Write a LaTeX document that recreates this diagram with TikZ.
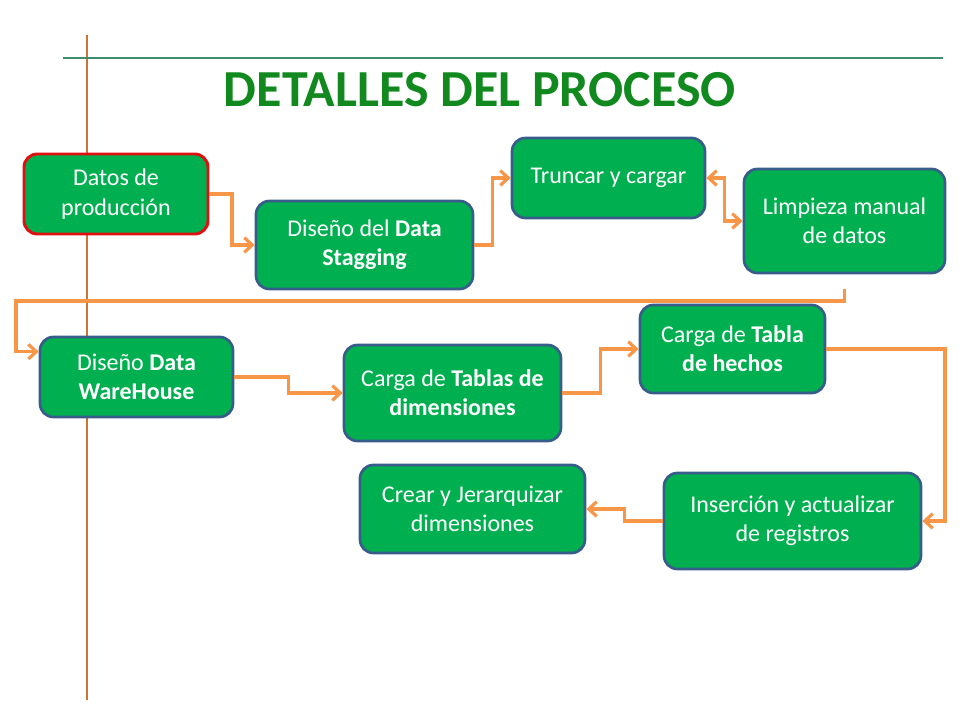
\documentclass[tikz,border=0pt]{standalone}
\usepackage{fontspec}
\setmainfont{Carlito}
\usetikzlibrary{arrows.meta,calc}
\definecolor{procGreen}{HTML}{00B050}
\definecolor{procBlue}{HTML}{385D8A}
\definecolor{procRed}{HTML}{E01010}
\definecolor{flowOrange}{HTML}{F79646}
\definecolor{titleGreen}{HTML}{12891E}
\definecolor{ruleTeal}{HTML}{3E8C6E}
\definecolor{ruleOrange}{HTML}{CC7430}
\tikzset{
  proc/.style={draw=procBlue, line width=2pt, fill=procGreen, rounded corners=10pt,
    text=white, align=center, inner sep=2pt, font=\fontsize{18}{22}\selectfont},
  flow/.style={draw=flowOrange, line width=2.4pt, -{Straight Barb[length=6pt,width=11pt]}},
}
\begin{document}
\begin{tikzpicture}[x=0.75pt,y=-0.75pt]
\useasboundingbox (0,0) rectangle (960,720);
%slide rules
\coordinate (ruleTop)    at (  87, 35);
\coordinate (ruleBottom) at (  87,700);
\coordinate (ruleLeft)   at (  63, 58);
\coordinate (ruleRight)  at ( 943, 58);
\draw[ruleOrange, line width=0.8pt] (ruleTop) -- (ruleBottom);
\draw[ruleTeal, line width=0.8pt] (ruleLeft) -- (ruleRight);

%title
\node[text=titleGreen, font=\fontsize{39}{46}\selectfont\bfseries] (titulo) at (480,90) {DETALLES DEL PROCESO};

%process steps
\node[proc, draw=procRed, line width=2.2pt, minimum width=138pt, minimum height=60pt] (datos) at (116,  194) {Datos de\\producción};
\node[proc, minimum width=162.75pt, minimum height=66pt]   (stagging)    at (364.5,245) {Diseño del \textbf{Data}\\\textbf{Stagging}};
\node[proc, minimum width=144.75pt, minimum height=60pt]   (truncar)     at (608.5,178) {Truncar y cargar};
\node[proc, minimum width=150.75pt, minimum height=78pt]   (limpieza)    at (844.5,221) {Limpieza manual\\de datos};
\node[proc, minimum width=144.75pt, minimum height=60pt]   (warehouse)   at (136.5,377) {Diseño \textbf{Data}\\\textbf{WareHouse}};
\node[proc, minimum width=162.75pt, minimum height=72pt]   (dimensiones) at (452.5,393) {Carga de \textbf{Tablas de}\\\textbf{dimensiones}};
\node[proc, minimum width=138.75pt, minimum height=66pt]   (hechos)      at (732.5,349) {Carga de \textbf{Tabla}\\\textbf{de hechos}};
\node[proc, minimum width=168.75pt, minimum height=66pt]   (crear)       at (472.5,509) {Crear y Jerarquizar\\dimensiones};
\node[proc, minimum width=192.75pt, minimum height=72pt]   (insercion)   at (792.5,521) {Inserción y actualizar\\de registros};

%bend points
\coordinate (limpiezaOut) at (844.5,289);
\coordinate (bendLeft)    at (  16,301);
\coordinate (bendRight)   at ( 945,349);

%connectors
\draw[flow] (datos.east) -| ($(datos.east)!.5!(stagging.west)$) |- (stagging.west);
\draw[flow] (stagging.east) -| ($(stagging.east)!.5!(truncar.west)$) |- (truncar.west);
\draw[flow, {Straight Barb[length=6pt,width=11pt]}-{Straight Barb[length=6pt,width=11pt]}] (truncar.east) -| ($(truncar.east)!.5!(limpieza.west)$) |- (limpieza.west);
\draw[flow] (limpiezaOut) |- (bendLeft) |- ([yshift=-12pt]warehouse.north west);
\draw[flow] (warehouse.east) -| ($(warehouse.east)!.5!(dimensiones.west)$) |- (dimensiones.west);
\draw[flow] (dimensiones.east) -| ($(dimensiones.east)!.5!(hechos.west)$) |- (hechos.west);
\draw[flow] (hechos.east) -- (bendRight) |- (insercion.east);
\draw[flow] (insercion.west) -| ($(insercion.west)!.5!(crear.east)$) |- (crear.east);
\end{tikzpicture}
\end{document}
